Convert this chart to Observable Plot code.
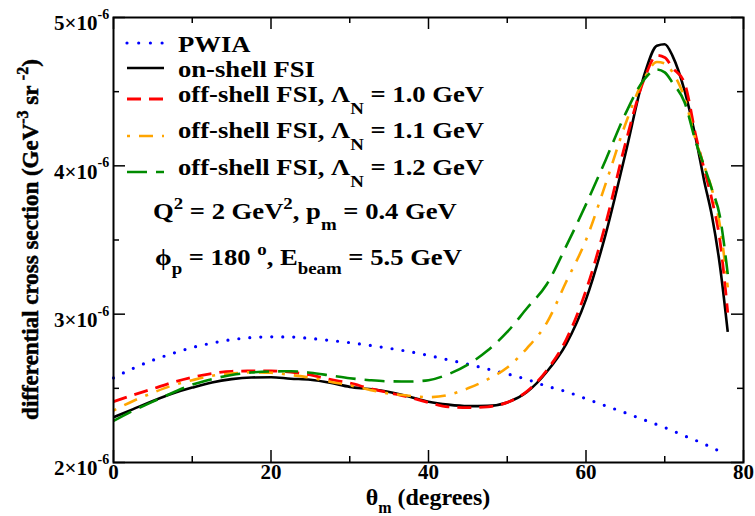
<!DOCTYPE html>
<html><head><meta charset="utf-8">
<script src="https://cdn.jsdelivr.net/npm/d3@7"></script>
<script src="https://cdn.jsdelivr.net/npm/@observablehq/plot@0.6"></script>
<style>body{margin:0;background:#fff} svg{display:block}</style>
</head><body><div id="chart"></div>
<script>
// ---- data (cross section in units of 1e-6 GeV^-3 sr^-2) ----
const thetaPWIA = [0,2.5,5,7.5,10,12.5,15,17.5,20,22.5,25,27.5,30,32.5,35,37.5,40,42.5,45,47.5,50,52.5,55,57.5,60,62.5,65,67.5,70,72.5,75,77];
const pwia = [2.57,2.635,2.69,2.735,2.775,2.805,2.828,2.842,2.847,2.846,2.836,2.823,2.808,2.79,2.77,2.748,2.722,2.692,2.663,2.63,2.597,2.56,2.515,2.478,2.43,2.382,2.335,2.285,2.236,2.18,2.125,2.075];
const theta = [0,2.5,5,7.5,10,12.5,15,17.5,20,22.5,25,27.5,30,32.5,35,37.5,40,42.5,45,47.5,50,52.5,55,57.5,60,62.5,65,67.5,69,70,71,72.5,74,75,76,77,78];
const onShell = [2.305,2.36,2.415,2.465,2.505,2.54,2.562,2.573,2.575,2.565,2.558,2.538,2.51,2.495,2.475,2.445,2.41,2.39,2.38,2.382,2.405,2.475,2.61,2.80,3.10,3.54,4.08,4.63,4.81,4.82,4.74,4.51,4.17,3.90,3.66,3.33,2.88];
const off10 = [2.41,2.455,2.497,2.54,2.575,2.6,2.615,2.617,2.617,2.61,2.59,2.56,2.535,2.5,2.47,2.44,2.405,2.375,2.37,2.375,2.405,2.48,2.62,2.83,3.16,3.61,4.15,4.6,4.745,4.73,4.66,4.56,4.19,3.98,3.77,3.5,3.01];
const off11 = [2.35,2.415,2.47,2.52,2.555,2.585,2.6,2.608,2.605,2.59,2.572,2.545,2.52,2.49,2.465,2.45,2.44,2.455,2.5,2.56,2.64,2.77,2.94,3.22,3.5,3.88,4.28,4.6,4.70,4.69,4.63,4.46,4.16,4.0,3.84,3.6,3.18];
const off12 = [2.28,2.35,2.41,2.47,2.525,2.562,2.59,2.607,2.614,2.615,2.605,2.587,2.568,2.555,2.547,2.546,2.555,2.595,2.66,2.755,2.88,3.04,3.2,3.46,3.74,4.04,4.35,4.59,4.65,4.63,4.56,4.43,4.15,4.0,3.84,3.66,3.27];
const xMajor = [0,20,40,60,80], xMinor = [10,30,50,70];
const yMajor = [2,3,4,5], yMinor = [2.5,3.5,4.5];

const series = [
  {label:[["PWIA"]], xs:thetaPWIA, ys:pwia, stroke:"#0000ff", dash:"0,11", width:3.2, cap:"round"},
  {label:[["on-shell FSI"]], xs:theta, ys:onShell, stroke:"#000000", dash:null, width:2.6, cap:"butt"},
  {label:[["off-shell FSI, Λ"],["N","sub"],[" = 1.0 GeV"]], xs:theta, ys:off10, stroke:"#ff0000", dash:"14,8", width:2.8, cap:"butt"},
  {label:[["off-shell FSI, Λ"],["N","sub"],[" = 1.1 GeV"]], xs:theta, ys:off11, stroke:"#ffa500", dash:"3,9,14,9", width:2.6, cap:"butt"},
  {label:[["off-shell FSI, Λ"],["N","sub"],[" = 1.2 GeV"]], xs:theta, ys:off12, stroke:"#008b00", dash:"20,9", width:2.6, cap:"butt"}
];

const W = 755, H = 516, mL = 113, mR = 12, mT = 17, mB = 54;
const xPerPx = 80 / (W - mL - mR), yPerPx = 3 / (H - mT - mB);
const MAJ = 12, MIN = 6;
const FONT = "Liberation Serif";
const tickStyle = {stroke:"#000", strokeWidth:1.5};

const marks = [];
series.forEach(s => {
  const rows = s.xs.map((x, i) => ({theta:x, v:s.ys[i]}));
  marks.push(Plot.line(rows, {x:"theta", y:"v", stroke:s.stroke, strokeWidth:s.width,
    strokeDasharray:s.dash, strokeLinecap:s.cap, curve:"monotone-x"}));
});
// inward ticks on all four sides
marks.push(
  Plot.ruleX(xMajor, {x:d=>d, y1:2, y2:2 + MAJ*yPerPx, ...tickStyle}),
  Plot.ruleX(xMinor, {x:d=>d, y1:2, y2:2 + MIN*yPerPx, ...tickStyle}),
  Plot.ruleX(xMajor, {x:d=>d, y1:5, y2:5 - MAJ*yPerPx, ...tickStyle}),
  Plot.ruleX(xMinor, {x:d=>d, y1:5, y2:5 - MIN*yPerPx, ...tickStyle}),
  Plot.ruleY(yMajor, {y:d=>d, x1:0, x2:MAJ*xPerPx, ...tickStyle}),
  Plot.ruleY(yMinor, {y:d=>d, x1:0, x2:MIN*xPerPx, ...tickStyle}),
  Plot.ruleY(yMajor, {y:d=>d, x1:80, x2:80 - MAJ*xPerPx, ...tickStyle}),
  Plot.ruleY(yMinor, {y:d=>d, x1:80, x2:80 - MIN*xPerPx, ...tickStyle}),
  Plot.frame({stroke:"#000", strokeWidth:2}),
  Plot.text(xMajor, {x:d=>d, frameAnchor:"bottom", dy:16, text:d=>String(d),
    fontSize:21, fontWeight:"bold", fontFamily:FONT, fill:"#000"}),
  Plot.text(yMajor, {y:d=>d, frameAnchor:"left", dx:-16, dy:6, text:d=>`${d}×10`, textAnchor:"end",
    fontSize:21, fontWeight:"bold", fontFamily:FONT, fill:"#000"}),
  Plot.text(yMajor, {y:d=>d, frameAnchor:"left", dx:-16, dy:-3, text:()=>"-6", textAnchor:"start",
    fontSize:14, fontWeight:"bold", fontFamily:FONT, fill:"#000"})
);

const plot = Plot.plot({
  width:W, height:H, marginLeft:mL, marginRight:mR, marginTop:mT, marginBottom:mB,
  x:{domain:[0,80], axis:null}, y:{domain:[2,5], axis:null},
  style:{background:"#fff", fontFamily:FONT},
  marks
});
document.getElementById("chart").append(plot);

// ---- rich text (sub/superscripts) and legend ----
const svg = d3.select(plot);
const g = svg.append("g").attr("font-family", FONT).attr("font-weight", "bold").attr("fill", "#000")
  .style("white-space", "pre");

function rich(x, y, parts, size, opts = {}) {
  const sx = opts.sx || 1, rot = opts.rotate || 0;
  const t = g.append("text")
    .attr("transform", `translate(${x},${y}) rotate(${rot}) scale(${sx},1)`)
    .attr("font-size", size)
    .attr("font-weight", "bold")
    .style("font-weight", "bold")
    .attr("text-anchor", opts.anchor || "start");
  if (opts.stroke) t.attr("stroke", "#000").attr("stroke-width", opts.stroke);
  let cur = 0;
  parts.forEach(([txt, kind]) => {
    const target = kind === "sub" ? (opts.sub || 12) : kind === "sup" ? (opts.sup || -10) : 0;
    const ts = t.append("tspan").text(txt).attr("dy", target - cur);
    if (kind) ts.attr("font-size", opts.small || size * 0.68);
    cur = target;
  });
  return t;
}

const fx = plot.scale("x"), fy = plot.scale("y");
const legX0 = fx.apply(0) + 14, legX1 = fx.apply(0) + 51, legText = fx.apply(0) + 65;
const legLineY = [43, 68, 99, 136, 172];
const legTextY = [52, 77, 102, 138, 175];
series.forEach((s, i) => {
  g.append("line").attr("x1", legX0).attr("x2", legX1).attr("y1", legLineY[i]).attr("y2", legLineY[i])
    .attr("stroke", s.stroke).attr("stroke-width", s.width)
    .attr("stroke-dasharray", s.dash === "0,11" ? "0,11.7" : s.dash)
    .attr("stroke-linecap", s.cap);
  rich(legText, legTextY[i], s.label, 24, {sx:1.11, sub:12, small:17});
});

rich(fx.apply(0) + 40, 219, [["Q"],["2","sup"],[" = 2 GeV"],["2","sup"],[", p"],["m","sub"],[" = 0.4 GeV"]],
  24, {sx:1.11, sup:-10, sub:11, small:17});
rich(fx.apply(0) + 42, 265, [["ϕ"],["p","sub"],[" = 180 "],["o","sup"],[", E"],["beam","sub"],[" = 5.5 GeV"]],
  24, {sx:1.11, sup:-10, sub:9, small:17});

// axis titles
rich((fx.apply(0) + fx.apply(80)) / 2, 505, [["θ"],["m","sub"],[" (degrees)"]], 24, {anchor:"middle", sub:8, small:16});
rich(38, (fy.apply(2) + fy.apply(5)) / 2, [["differential cross section (GeV"],["-3","sup"],[" sr "],["-2","sup"],[")"]],
  23, {anchor:"middle", rotate:-90, sup:-10, small:16, stroke:0.5});
</script>
</body></html>
